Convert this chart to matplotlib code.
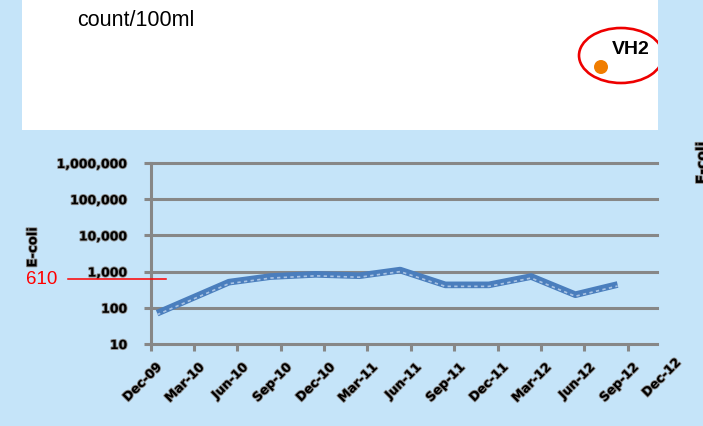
import datetime as dt
import matplotlib
matplotlib.use("Agg")
import matplotlib.pyplot as plt
import matplotlib.transforms as mtransforms
import matplotlib.patheffects as pe
from matplotlib.patches import Rectangle, Ellipse

# E. coli counts at site VH2 (count/100ml)
sample_dates = ["2009-12-14", "2010-05-14", "2010-08-10", "2010-11-13", "2011-02-13",
                "2011-05-10", "2011-08-13", "2011-11-13", "2012-02-10", "2012-05-13",
                "2012-08-10"]
ecoli = [71, 510, 730, 840, 770, 1100, 430, 430, 730, 230, 440]
tick_dates = ["2009-12-01", "2010-03-01", "2010-06-01", "2010-09-01", "2010-12-01",
              "2011-03-01", "2011-06-01", "2011-09-01", "2011-12-01", "2012-03-01",
              "2012-06-01", "2012-09-01", "2012-12-01"]
y_ticks = [10, 100, 1000, 10000, 100000, 1000000]
guideline_value = 610
site = "VH2"
units = "count/100ml"

bg = "#C5E4F9"
grid_col = "#878787"
line_col = "#4A7EBD"

x = [dt.datetime.strptime(d, "%Y-%m-%d") for d in sample_dates]
ticks = [dt.datetime.strptime(d, "%Y-%m-%d") for d in tick_dates]

fig = plt.figure(figsize=(7.03, 4.26), dpi=100)
fig.patch.set_facecolor(bg)

# white header panel
panel = Rectangle((22 / 703, 1 - 130 / 426), 636 / 703, 130 / 426,
                  transform=fig.transFigure, facecolor="white", edgecolor="none", zorder=0)
fig.patches.append(panel)
fig.text(77 / 703, 1 - 21 / 426, units, fontsize=15.5, family="Liberation Sans",
         va="center", ha="left")
fig.text(612 / 703, 1 - 50 / 426, site, fontsize=14, family="Liberation Sans",
         fontweight="bold", va="center", ha="left")
dot = Ellipse((601 / 703, 1 - 67 / 426), 14 / 703, 14 / 426, transform=fig.transFigure,
              facecolor="#F07D00", edgecolor="none", zorder=2)
fig.patches.append(dot)
ring = Ellipse((621 / 703, 1 - 55.5 / 426), 84 / 703, 55 / 426, transform=fig.transFigure,
               facecolor="none", edgecolor="#EE0000", linewidth=1.9, zorder=3)
fig.patches.append(ring)
ring.set_clip_path(panel)

ax = fig.add_axes([151 / 703, (426 - 344) / 426, 506 / 703, 181 / 426])
ax.set_facecolor("none")
ax.set_yscale("log")
ax.set_ylim(10, 1000000)
ax.set_xlim(ticks[0], dt.datetime(2012, 11, 1))

for v in y_ticks:
    ax.axhline(v, color=grid_col, lw=2.2, zorder=1, clip_on=False)
for s in ["top", "right", "bottom"]:
    ax.spines[s].set_visible(False)
ax.spines["left"].set_color(grid_col)
ax.spines["left"].set_linewidth(2.2)

ax.set_yticks(y_ticks)
ax.set_yticklabels([f"{v:,}" for v in y_ticks])
ax.yaxis.set_minor_locator(matplotlib.ticker.NullLocator())
ax.set_xticks(ticks[:-1])
ax.set_xticklabels([t.strftime("%b-%y") for t in ticks[:-1]])
ax.tick_params(axis="both", color=grid_col, width=2.2, length=5)
ax.tick_params(axis="y", pad=12)
ax.tick_params(axis="x", pad=2)

shadow = [pe.withStroke(linewidth=1.3, foreground="#8a8a8a")]
shift = mtransforms.ScaledTranslation(4 / 100, -7 / 100, fig.dpi_scale_trans)
for lab in ax.get_yticklabels():
    lab.set_fontweight("bold")
    lab.set_fontsize(9)
    lab.set_path_effects(shadow)
for lab in ax.get_xticklabels():
    lab.set_fontweight("bold")
    lab.set_fontsize(9)
    lab.set_rotation(45)
    lab.set_ha("right")
    lab.set_va("top")
    lab.set_rotation_mode("anchor")
    lab.set_path_effects(shadow)
    lab.set_transform(lab.get_transform() + shift)

# last quarter label sits past the end of the axis
ax.annotate(ticks[-1].strftime("%b-%y"), xy=(ticks[-1], 0), xycoords=("data", "axes fraction"),
            xytext=(3, -12), textcoords="offset pixels", rotation=45, ha="right", va="top",
            rotation_mode="anchor", fontsize=9, fontweight="bold", annotation_clip=False,
            path_effects=shadow)

fig.text(33 / 703, 1 - 247 / 426, "E-coli", rotation=90, fontsize=9.5,
         fontweight="bold", va="center", ha="center", path_effects=shadow)

ax.plot(x, ecoli, color=line_col, lw=4.8, solid_capstyle="butt", zorder=3)
below = mtransforms.offset_copy(ax.transData, fig=fig, x=0, y=-1.5, units="dots")
ax.plot(x, ecoli, color="#A9C3E3", lw=1.2, ls=(0, (2, 2)), transform=below, zorder=4)

# guideline marker
yx = mtransforms.blended_transform_factory(fig.transFigure, ax.transData)
ax.plot([68 / 703, 166 / 703], [guideline_value] * 2, color="#FF0000", lw=1.1,
        transform=yx, clip_on=False, zorder=5)
ax.text(26 / 703, guideline_value, str(guideline_value), transform=yx, color="#FF0000",
        fontsize=13.5, family="Liberation Sans", va="center", ha="left")

# neighbouring chart's axis title at the right edge
fig.text(702 / 703, 1 - 163 / 426, "E-coli", rotation=90, fontsize=10,
         fontweight="bold", va="center", ha="center", path_effects=shadow)

fig.savefig("out.png", dpi=100, facecolor=bg)
